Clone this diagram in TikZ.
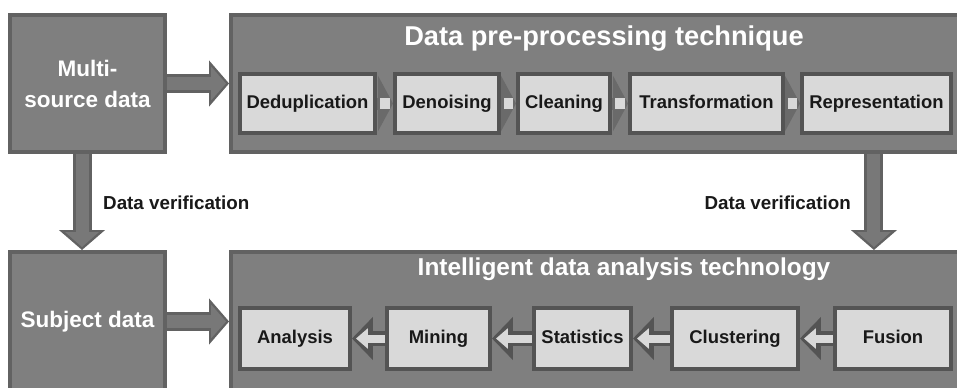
\documentclass[tikz,border=0pt]{standalone}
\usepackage{fontspec}
\setmainfont{Liberation Sans}
\usepackage{tikz}
\usetikzlibrary{calc}
\usetikzlibrary{arrows.meta}

\definecolor{boxgray}{RGB}{127,127,127}
\definecolor{bordergray}{RGB}{98,98,98}
\definecolor{arrowgray}{RGB}{120,120,120}
\definecolor{innerfill}{RGB}{217,217,217}
\definecolor{innerborder}{RGB}{84,84,84}
\definecolor{gapgray}{RGB}{106,106,106}

\begin{document}
\begin{tikzpicture}[x=0.02cm, y=-0.02cm,
    outerbox/.style={draw=bordergray, fill=boxgray, line width=0.08cm, inner sep=0pt, text=white, align=center, font=\bfseries\fontsize{12.8}{17.6}\selectfont},
    innerbox/.style={draw=innerborder, fill=innerfill, line width=0.08cm, inner sep=0pt, text height=7.8pt, text depth=2.3pt, text=black!90, font=\bfseries\fontsize{10.5}{12}\selectfont},
    toprow/.style={innerbox, minimum height=1.18cm},
    botrow/.style={innerbox, minimum height=1.22cm},
    bigback/.style={draw=bordergray, line width=0.38cm, -{Triangle[width=0.9cm, length=0.4cm]}},
    bigfront/.style={draw=arrowgray, line width=0.26cm, shorten >=0.06cm, -{Triangle[width=0.66cm, length=0.3cm]}},
    smallback/.style={draw=innerborder, line width=0.3cm, -{Triangle[width=0.84cm, length=0.42cm]}},
    smallfront/.style={draw=innerfill, line width=0.16cm, shorten >=0.08cm, -{Triangle[width=0.4cm, length=0.24cm]}},
    gapback/.style={draw=gapgray, line width=0.24cm, -{Triangle[width=1.1cm, length=0.3cm]}},
    gapfront/.style={draw=innerfill, line width=0.22cm, shorten <=0.07cm, shorten >=0.07cm},
    label/.style={text=black!90, font=\bfseries\fontsize{10.7}{12}\selectfont},
  ]
    \useasboundingbox (0,0) rectangle (957,387);
    \clip (0,0) rectangle (957,387);
    % Bloecke
    \node[outerbox, minimum width=3.1cm, minimum height=2.74cm] (msd) at (87.5,83.5) {Multi-\\source data};
    \node[outerbox, minimum width=3.1cm, minimum height=2.78cm] (sub) at (87.5,321.5) {Subject data};
    \node[outerbox, minimum width=15.34cm, minimum height=2.74cm] (pre) at (614.5,83.5) {};
    \node[outerbox, minimum width=15.34cm, minimum height=3.32cm] (intel) at (614.5,335) {};
    \node[anchor=base, text=white, font=\bfseries\fontsize{15.5}{18}\selectfont] (pretitle) at (604,45) {Data pre-processing technique};
    \node[anchor=base, text=white, font=\bfseries\fontsize{13.9}{18}\selectfont] (inteltitle) at (624,275) {Intelligent data analysis technology};
    % Pfeile
    \draw[bigback] (msd.east) -- (pre.west);
    \draw[bigfront] (msd.east) -- (pre.west);
    \draw[bigback] (sub.east) -- (sub.east -| intel.west);
    \draw[bigfront] (sub.east) -- (sub.east -| intel.west);
    \draw[bigback] ([xshift=-0.11cm]msd.south) -- ([xshift=-0.11cm]sub.north);
    \draw[bigfront] ([xshift=-0.11cm]msd.south) -- ([xshift=-0.11cm]sub.north);
    \draw[bigback] ([xshift=5.19cm]pre.south) -- ([xshift=5.19cm]intel.north);
    \draw[bigfront] ([xshift=5.19cm]pre.south) -- ([xshift=5.19cm]intel.north);
    \node[label, anchor=base west] (verleft) at (97,209) {Data verification};
    \node[label, anchor=base east] (verright) at (857,209) {Data verification};
    % Vorverarbeitung
    \node[toprow, minimum width=2.70cm] (dedup) at (307.5,103.5) {Deduplication};
    \node[toprow, minimum width=2.08cm] (denoise) at (447,103.5) {Denoising};
    \node[toprow, minimum width=1.84cm] (clean) at (564,103.5) {Cleaning};
    \node[toprow, minimum width=3.06cm] (trans) at (706.5,103.5) {Transformation};
    \node[toprow, minimum width=2.98cm] (repr) at (876.5,103.5) {Representation};
    \draw[gapback] (dedup.east) -- (denoise.west);
    \draw[gapfront] (dedup.east) -- (denoise.west);
    \draw[gapback] (denoise.east) -- (clean.west);
    \draw[gapfront] (denoise.east) -- (clean.west);
    \draw[gapback] (clean.east) -- (trans.west);
    \draw[gapfront] (clean.east) -- (trans.west);
    \draw[gapback] (trans.east) -- (repr.west);
    \draw[gapfront] (trans.east) -- (repr.west);
    % Analyse
    \node[botrow, minimum width=2.20cm] (analysis) at (295,338.5) {Analysis};
    \node[botrow, minimum width=2.06cm] (mining) at (438.5,338.5) {Mining};
    \node[botrow, minimum width=1.94cm] (stats) at (582.5,338.5) {Statistics};
    \node[botrow, minimum width=2.52cm] (cluster) at (735,338.5) {Clustering};
    \node[botrow, minimum width=2.32cm] (fusion) at (893,338.5) {Fusion};
    \draw[smallback] (fusion.west) -- (cluster.east);
    \draw[smallfront] (fusion.west) -- (cluster.east);
    \draw[smallback] (cluster.west) -- (stats.east);
    \draw[smallfront] (cluster.west) -- (stats.east);
    \draw[smallback] (stats.west) -- (mining.east);
    \draw[smallfront] (stats.west) -- (mining.east);
    \draw[smallback] (mining.west) -- (analysis.east);
    \draw[smallfront] (mining.west) -- (analysis.east);
\end{tikzpicture}
\end{document}
